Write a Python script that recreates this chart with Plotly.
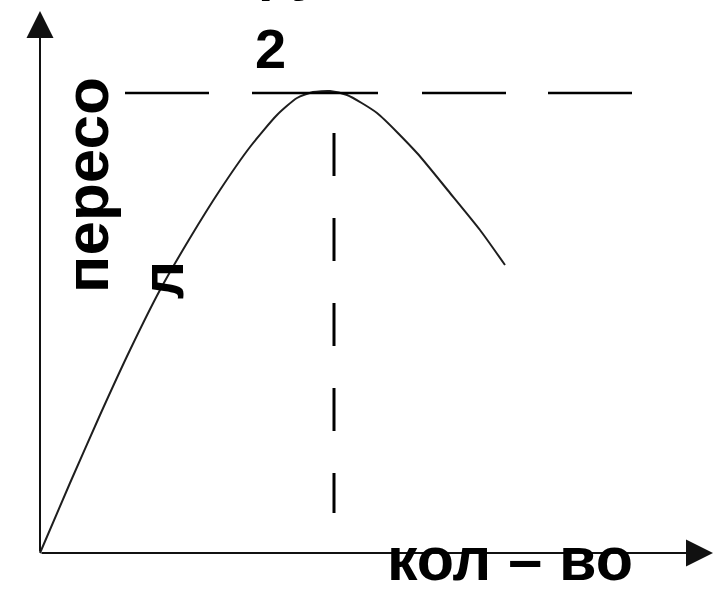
import plotly.graph_objects as go

# Curve data (quantity vs. value)
qty = [0, 3.0, 6.0, 9.0, 12.0, 15.0, 18.0, 21.0, 23.7, 25.7, 27.3, 29.0,
       30.7, 33.7, 37.7, 41.0, 44.0, 46.5]
val = [0, 7.0, 13.8, 20.3, 26.3, 31.5, 36.3, 40.6, 43.8, 45.5, 46.1, 46.2,
       45.8, 44.0, 40.0, 36.0, 32.3, 28.8]

max_level = 46.0           # horizontal dashed level
max_level_x = [8.5, 59.2]  # its extent
peak_q = 29.4              # vertical dashed line position
peak_line_y = [42.0, 4.0]  # its extent

axis_x_tip = 67.3
axis_y_tip = 54.2

label_y_line1 = "пересо"
label_y_line2 = "л"
label_x = "кол – во"
label_top = "ру"
label_num = "2"

FONT = "Liberation Sans, Arial, sans-serif"

fig = go.Figure()

fig.add_trace(go.Scatter(
    x=qty, y=val, mode="lines",
    line=dict(color="#1e1e1e", width=2, shape="spline", smoothing=0.6),
    hoverinfo="skip", showlegend=False))

fig.add_trace(go.Scatter(
    x=max_level_x, y=[max_level, max_level], mode="lines",
    line=dict(color="black", width=2.6,
              dash="84px,43px,126px,44px,84px,42px,84px,200px"),
    hoverinfo="skip", showlegend=False))

fig.add_trace(go.Scatter(
    x=[peak_q, peak_q], y=peak_line_y, mode="lines",
    line=dict(color="black", width=3, dash="43px,42px"),
    hoverinfo="skip", showlegend=False))

ann = []
# axes as arrows
ann.append(dict(x=0, y=axis_y_tip, ax=0, ay=0, xref="x", yref="y", axref="x", ayref="y",
                showarrow=True, arrowhead=2, arrowwidth=2, arrowsize=2.7,
                arrowcolor="#111", text=""))
ann.append(dict(x=axis_x_tip, y=0, ax=0, ay=0, xref="x", yref="y", axref="x", ayref="y",
                showarrow=True, arrowhead=2, arrowwidth=2, arrowsize=2.7,
                arrowcolor="#111", text=""))

def txt(t, x, y, size, angle=0, xref="x", yref="y"):
    return dict(text=t, x=x, y=y, xref=xref, yref=yref, showarrow=False,
                textangle=angle, xanchor="center", yanchor="middle",
                font=dict(family=FONT, size=size, color="black", weight="bold"))

ann.append(txt(label_y_line1, 4.6, 36.8, 62, -90))
ann.append(txt(label_y_line2, 12.2, 27.3, 60, -90))
ann.append(txt(label_num, 23.0, 50.5, 56))
ann.append(txt(label_x, 47.0, -0.6, 61))
ann.append(txt(label_top, 29.0 / 71.8, 1.052, 56, 0, "paper", "paper"))

fig.update_layout(
    width=718, height=591,
    margin=dict(l=0, r=0, t=0, b=0),
    paper_bgcolor="white", plot_bgcolor="white",
    xaxis=dict(range=[-4, 67.8], visible=False, fixedrange=True),
    yaxis=dict(range=[-3.8, 55.3], visible=False, fixedrange=True),
    annotations=ann,
    showlegend=False,
)

fig.write_html("out.html", config={"displayModeBar": False},
               post_script="document.body.style.margin='0';document.body.style.overflow='hidden';")
